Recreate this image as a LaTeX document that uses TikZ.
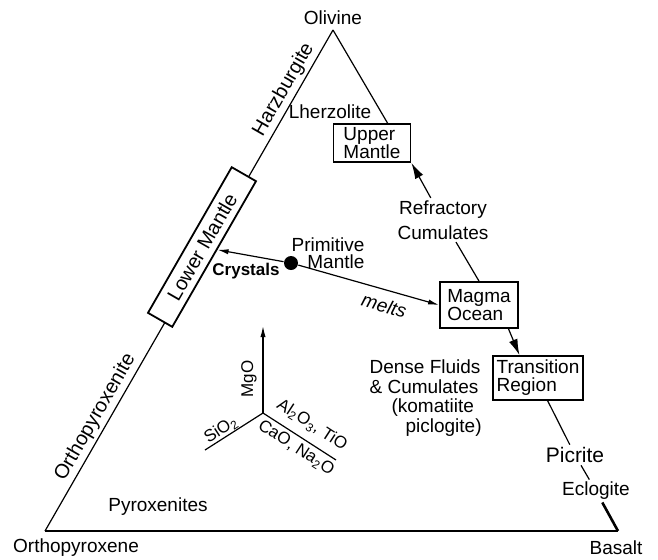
\documentclass[tikz,border=0pt]{standalone}
\usepackage{fontspec}
\setmainfont{Liberation Sans}
\usetikzlibrary{arrows.meta, calc}

\tikzset{
  phase/.style={draw, line width=0.9pt, fill=white, align=left,
    inner xsep=2pt, inner ysep=1pt, font=\fontsize{9.5}{9}\selectfont},
  oxide/.style={font=\fontsize{8.5}{9}\selectfont, inner sep=0.5pt},
  sidelbl/.style={sloped, above, font=\fontsize{10}{10}\selectfont, inner sep=1.5pt},
  bigarr/.style={-{Latex[length=8pt,width=4.5pt]}},
  smallarr/.style={-{Latex[length=5.5pt,width=2.6pt]}},
}

\begin{document}
\begin{tikzpicture}[x=0.5pt, y=-0.5pt, line width=0.6pt,
  every node/.style={font=\fontsize{9.5}{10}\selectfont, inner sep=1pt}]
  \useasboundingbox (0,0) rectangle (658,559);

  % corners of the triangle
  \coordinate (apex) at (333,30);
  \coordinate (bl) at (45,531);
  \coordinate (br) at (618,531);
  \node (olv) at (333,18) {Olivine};
  \node (opx) at (76,548) {Orthopyroxene};
  \node (bas) at (616,548) {Basalt};

  % left and bottom sides
  \draw (bl) -- (apex)
    node[sidelbl, pos=0.868] (hzb) {Harzburgite}
    node[sidelbl, pos=0.214] (opxt) {Orthopyroxenite};
  \draw (bl) -- (br);
  \node[phase, rotate=60.1, minimum width=84pt, minimum height=14pt,
    align=center, font=\fontsize{10}{10}\selectfont] (lower) at (202,247) {Lower Mantle};

  % right side, top to bottom
  \node (lhz) at (330,112) {Lherzolite};
  \node[phase, minimum width=38.5pt, minimum height=19pt] (upper) at (372,143) {Upper\\Mantle};
  \node[align=center, font=\fontsize{9.5}{12.5}\selectfont] (refr) at (443,220) {Refractory\\Cumulates};
  \node[phase, minimum width=39pt, minimum height=23pt] (magma) at (479,305) {Magma\\Ocean};
  \node[phase, minimum width=45pt, minimum height=22pt] (trans) at (538,378) {Transition\\Region};
  \node[font=\fontsize{10.5}{11}\selectfont] (pic) at (575,455) {Picrite};
  \node (ecl) at (596,491) {Eclogite};

  \draw (apex) -- (upper.52);
  \draw[bigarr] (refr) -- (upper.south east);
  \draw (refr) -- (magma.north);
  \draw[bigarr] (magma.-39) -- (trans.129);
  \draw (trans.-67) -- (pic);
  \draw (pic) -- (ecl);
  \draw[line width=1.3pt] (ecl) -- (br);

  % primitive mantle splits
  \node[circle, fill, inner sep=0pt, minimum size=7pt] (dot) at (291,263) {};
  \node[align=right, font=\fontsize{9.5}{8.8}\selectfont] (prim) at (328,253) {Primitive\\Mantle};
  \node[font=\fontsize{8.5}{9}\selectfont\bfseries] (cry) at (246,271) {Crystals};
  \draw[smallarr] (dot) -- (lower);
  \draw[smallarr] (dot) -- (magma.west)
    node[pos=0.64, sloped, below=3pt, font=\fontsize{9.5}{10}\selectfont\itshape] (melt) {melts};

  \node[align=left, anchor=west, font=\fontsize{9.5}{9.7}\selectfont] (dense) at (367,398)
    {Dense Fluids\\\& Cumulates\\\hspace*{11pt}(komatiite\\\hspace*{18pt}piclogite)};
  \node (pyx) at (158,507) {Pyroxenites};

  % oxide directions
  \coordinate (o) at (263,413);
  \coordinate (mgo) at (263,326);
  \coordinate (sio) at (205,450);
  \coordinate (cao) at (336,460);
  \draw[smallarr] (o) -- (mgo);
  \draw (o) -- (sio);
  \draw (o) -- (cao);
  \node[oxide, rotate=90] (mgot) at (249,379) {MgO};
  \node[oxide, rotate=33] (siot) at (221,430) {SiO\textsubscript{2}};
  \node[oxide, rotate=-33] (alt) at (312,425) {Al\textsubscript{2}O\textsubscript{3}, TiO};
  \node[oxide, rotate=-33] (caot) at (296,448) {CaO, Na\textsubscript{2}O};
\end{tikzpicture}
\end{document}
